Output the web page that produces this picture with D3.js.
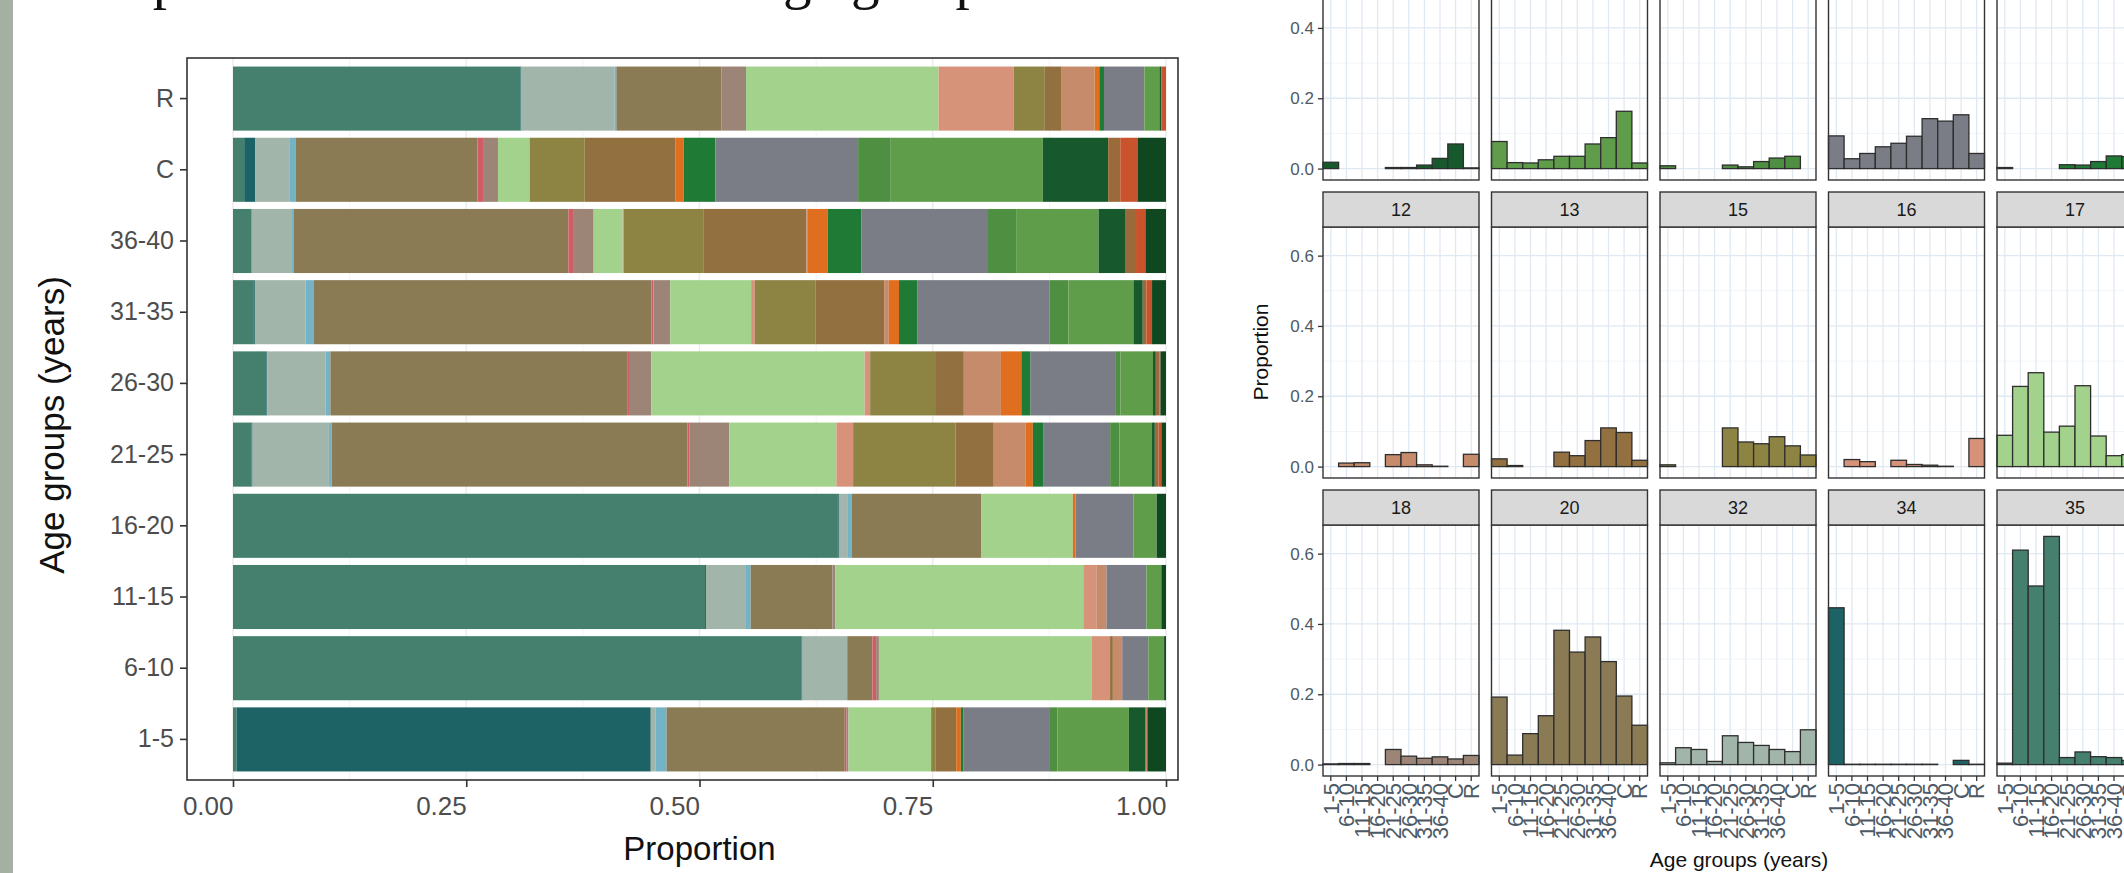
<!DOCTYPE html>
<html><head><meta charset="utf-8">
<script src="https://cdn.jsdelivr.net/npm/d3@7"></script>
<style>html,body{margin:0;padding:0;background:#fff;} svg{display:block;}</style>
</head><body><svg id="c" width="2124" height="873"></svg>
<script>
// ---------------- DATA ----------------
const ageGroups = ["1-5","6-10","11-15","16-20","21-25","26-30","31-35","36-40","C","R"];
const xTicks = [0, 0.25, 0.5, 0.75, 1];
const facetYTicks = [0, 0.2, 0.4, 0.6];

// stacking order (left to right in the stacked bars)
const stackKeys = ["35","34","32","lb","20","pk","18","17","16","15","13","12","or","c5","c4","c3","c2","c1","ob","ro","dg"];
const clusterColors = {
  "35":"#45806f","34":"#1d6365","32":"#a2b5aa","lb":"#74b3c6","20":"#8a7b55","pk":"#d25c66",
  "18":"#9c8577","17":"#a2d28c","16":"#d6937a","15":"#8d8342","13":"#93703f","12":"#c58b6b",
  "or":"#df6f1f","c5":"#1f7a36","c4":"#7b7d86","c3":"#4f8f42","c2":"#5f9d4b","c1":"#17592c",
  "ob":"#9a6a3a","ro":"#c8532c","dg":"#0f4720"
};
// proportion of each cluster within each age group (order of ageGroups); null = absent
const cl35 = [0.004,0.61,0.508,0.649,0.020,0.036,0.0225,0.020,0.012,0.306];
const cl34 = [0.446,0.001,0.001,0.001,0.001,0.001,0.001,null,0.012,0.001];
const cl32 = [0.005,0.048,0.043,0.009,0.082,0.063,0.0545,0.043,0.037,0.099];
const cllb = [0.012,0,0.005,0.005,0.003,0.005,0.009,0.002,0.006,0.002];
const cl20 = [0.192,0.027,0.088,0.139,0.382,0.320,0.363,0.293,0.195,0.112];
const clpk = [0.002,0.004,0,0,0.002,0.002,0.002,0.005,0.006,0];
const cl18 = [0.002,0.003,0.003,null,0.043,0.024,0.018,0.022,0.016,0.026];
const cl17 = [0.089,0.228,0.267,0.098,0.115,0.230,0.087,0.031,0.034,0.205];
const cl16 = [0,0.020,0.014,0,0.018,0.006,0.004,0.001,0,0.080];
const cl15 = [0.005,0,0,0,0.110,0.070,0.065,0.085,0.059,0.033];
const cl13 = [0.022,0.003,0,0,0.041,0.031,0.074,0.110,0.097,0.018];
const cl12 = [0,0.010,0.011,0,0.034,0.040,0.005,0.001,0,0.035];
const clor = [0.005,0,0,0.003,0.008,0.022,0.011,0.022,0.009,0.005];
const clc5 = [0.003,0,0,0,0.011,0.010,0.020,0.036,0.034,0.005];
const clc4 = [0.093,0.028,0.043,0.062,0.072,0.092,0.142,0.135,0.153,0.043];
const clc3 = [0.008,0,0,0,0.010,0.005,0.020,0.030,0.035,0];
const clc2 = [0.077,0.017,0.016,0.025,0.035,0.035,0.070,0.088,0.163,0.016];
const clc1 = [0.018,0,0,0,0.003,0.003,0.010,0.029,0.070,0.002];
const clob = [0.001,0,0,0,0.004,0.004,0.004,0.011,0.013,0];
const clro = [0.001,0,0,0,0.003,0.001,0.006,0.010,0.019,0.005];
const cldg = [0.020,0.002,0.005,0.010,0.005,0.006,0.015,0.022,0.030,0];

const clusterValues = {"35":cl35,"34":cl34,"32":cl32,"lb":cllb,"20":cl20,"pk":clpk,"18":cl18,"17":cl17,
  "16":cl16,"15":cl15,"13":cl13,"12":cl12,"or":clor,"c5":clc5,"c4":clc4,"c3":clc3,"c2":clc2,"c1":clc1,
  "ob":clob,"ro":clro,"dg":cldg};

// facet panels (facet_wrap, 5 columns)
const facetRows = [["c1","c2","c3","c4","c5"],["12","13","15","16","17"],["18","20","32","34","35"]];

// ---------------- DRAW ----------------
const svg = d3.select("#c");
const sans = "Liberation Sans, Arial, Helvetica, sans-serif";

// slide decoration
svg.append("rect").attr("x",0).attr("y",0).attr("width",13).attr("height",873).attr("fill","#a3b0a2");
svg.append("text").attr("x",42).attr("y",-2).attr("font-family","Liberation Serif, Times New Roman, serif")
  .attr("font-size",57).attr("fill","#111").text("Composition of clusters across age groups");

// ---- left stacked chart ----
const P = {x0:187, x1:1178, y0:58, y1:780};
const x = d3.scaleLinear().domain([0,1]).range([233,1166]);
const y = d3.scaleBand().domain(ageGroups.slice().reverse()).range([P.y0,P.y1]).paddingInner(0.1).paddingOuter(0.12);

const L = svg.append("g");
L.append("rect").attr("x",P.x0).attr("y",P.y0).attr("width",P.x1-P.x0).attr("height",P.y1-P.y0).attr("fill","#fff");
const minorX = [0.125,0.375,0.625,0.875];
L.selectAll(".gmx").data(minorX).join("line").attr("x1",d=>x(d)).attr("x2",d=>x(d)).attr("y1",P.y0).attr("y2",P.y1)
  .attr("stroke","#f4f4f4").attr("stroke-width",1);
L.selectAll(".gx").data(xTicks).join("line").attr("x1",d=>x(d)).attr("x2",d=>x(d)).attr("y1",P.y0).attr("y2",P.y1)
  .attr("stroke","#ececec").attr("stroke-width",1.4);

const rows = ageGroups.map((g,i)=>{const o={group:g}; stackKeys.forEach(k=>{o[k]=clusterValues[k][i]||0;}); return o;});
const series = d3.stack().keys(stackKeys).offset(d3.stackOffsetExpand)(rows);
L.selectAll("g.s").data(series).join("g").attr("fill",s=>clusterColors[s.key])
  .selectAll("rect").data(s=>s).join("rect")
  .attr("x",d=>x(d[0])).attr("width",d=>Math.max(0,x(d[1])-x(d[0])))
  .attr("y",d=>y(d.data.group)).attr("height",y.bandwidth());

L.append("rect").attr("x",P.x0).attr("y",P.y0).attr("width",P.x1-P.x0).attr("height",P.y1-P.y0)
  .attr("fill","none").attr("stroke","#333").attr("stroke-width",1.6);

const ax = L.append("g").attr("transform",`translate(0,${P.y1})`)
  .call(d3.axisBottom(x).tickValues(xTicks).tickFormat(d3.format(".2f")).tickSize(7).tickPadding(10));
ax.select(".domain").remove();
ax.selectAll("line").attr("stroke","#333").attr("stroke-width",1.6);
ax.selectAll("text").attr("font-family",sans).attr("font-size",26).attr("fill","#4d4d4d").attr("text-anchor","end");

const ay = L.append("g").attr("transform",`translate(${P.x0},0)`)
  .call(d3.axisLeft(y).tickSize(7).tickPadding(6));
ay.select(".domain").remove();
ay.selectAll("line").attr("stroke","#333").attr("stroke-width",1.6);
ay.selectAll("text").attr("font-family",sans).attr("font-size",25).attr("fill","#4d4d4d");

L.append("text").attr("x",(x(0)+x(1))/2).attr("y",860).attr("text-anchor","middle")
  .attr("font-family",sans).attr("font-size",33).attr("fill","#111").text("Proportion");
L.append("text").attr("transform",`translate(64,425) rotate(-90)`).attr("text-anchor","middle")
  .attr("font-family",sans).attr("font-size",35).attr("fill","#111").text("Age groups (years)");

// ---- right facet chart ----
const F = {left0:1323, colStep:168.5, pw:156, top0:-106, rowStep:298, stripH:35, panelH:251};
const facetMax = d3.max(facetRows.flat(), k=>d3.max(clusterValues[k]));
const fy = d3.scaleLinear().domain([-0.05*facetMax, 1.05*facetMax]).range([F.panelH,0]);
const fx = d3.scaleBand().domain(ageGroups).range([0,F.pw]).padding(0);
const minorY = [0.1,0.3,0.5];

const R = svg.append("g");
facetRows.forEach((row,ri)=>{
  row.forEach((key,ci)=>{
    const px = F.left0 + ci*F.colStep;
    const sy = F.top0 + ri*F.rowStep;
    const py = sy + F.stripH;
    const g = R.append("g").attr("transform",`translate(${px},${py})`);
    g.append("rect").attr("width",F.pw).attr("height",F.panelH).attr("fill","#fff");
    g.selectAll(".mn").data(minorY).join("line").attr("x1",0).attr("x2",F.pw).attr("y1",d=>fy(d)).attr("y2",d=>fy(d))
      .attr("stroke","#eef3f8").attr("stroke-width",0.8);
    g.selectAll(".mj").data(facetYTicks).join("line").attr("x1",0).attr("x2",F.pw).attr("y1",d=>fy(d)).attr("y2",d=>fy(d))
      .attr("stroke","#e0e9f2").attr("stroke-width",1.3);
    g.selectAll(".vx").data(ageGroups).join("line").attr("x1",d=>fx(d)+fx.bandwidth()/2).attr("x2",d=>fx(d)+fx.bandwidth()/2)
      .attr("y1",0).attr("y2",F.panelH).attr("stroke","#e0e9f2").attr("stroke-width",1.3);
    const vals = clusterValues[key].map((v,i)=>({g:ageGroups[i],v:v})).filter(d=>d.v!==null);
    g.selectAll(".b").data(vals).join("rect")
      .attr("x",d=>fx(d.g)).attr("width",fx.bandwidth())
      .attr("y",d=>fy(d.v)).attr("height",d=>fy(0)-fy(d.v))
      .attr("fill",clusterColors[key]).attr("stroke","#2e2e2e").attr("stroke-width",1.3);
    g.append("rect").attr("width",F.pw).attr("height",F.panelH).attr("fill","none").attr("stroke","#333").attr("stroke-width",1.4);
    const st = R.append("g").attr("transform",`translate(${px},${sy})`);
    st.append("rect").attr("width",F.pw).attr("height",F.stripH).attr("fill","#d9d9d9").attr("stroke","#333").attr("stroke-width",1.4);
    if(sy >= 0){
      st.append("text").attr("x",F.pw/2).attr("y",F.stripH/2).attr("dy","0.36em").attr("text-anchor","middle")
        .attr("font-family",sans).attr("font-size",18).attr("fill","#1a1a1a").text(key);
    }
    if(ci===0){
      const a = g.append("g").call(d3.axisLeft(fy).tickValues(facetYTicks).tickFormat(d3.format(".1f")).tickSize(5).tickPadding(4));
      a.select(".domain").remove();
      a.selectAll("line").attr("stroke","#333").attr("stroke-width",1.3);
      a.selectAll("text").attr("font-family",sans).attr("font-size",17).attr("fill","#4d5a66");
    }
    if(ri===facetRows.length-1){
      const a = g.append("g").attr("transform",`translate(0,${F.panelH})`)
        .call(d3.axisBottom(fx).tickSize(5).tickPadding(3));
      a.select(".domain").remove();
      a.selectAll("line").attr("stroke","#333").attr("stroke-width",1.3);
      a.selectAll("text").attr("font-family",sans).attr("font-size",22).attr("fill","#4d5a66")
        .attr("transform","rotate(-90)").attr("text-anchor","end").attr("x",-7).attr("y",0).attr("dx",0).attr("dy","0.35em");
    }
  });
});
R.append("text").attr("transform",`translate(1268,352) rotate(-90)`).attr("text-anchor","middle")
  .attr("font-family",sans).attr("font-size",21).attr("fill","#111").text("Proportion");
R.append("text").attr("x",1739).attr("y",867).attr("text-anchor","middle")
  .attr("font-family",sans).attr("font-size",21).attr("fill","#111").text("Age groups (years)");
</script></body></html>
